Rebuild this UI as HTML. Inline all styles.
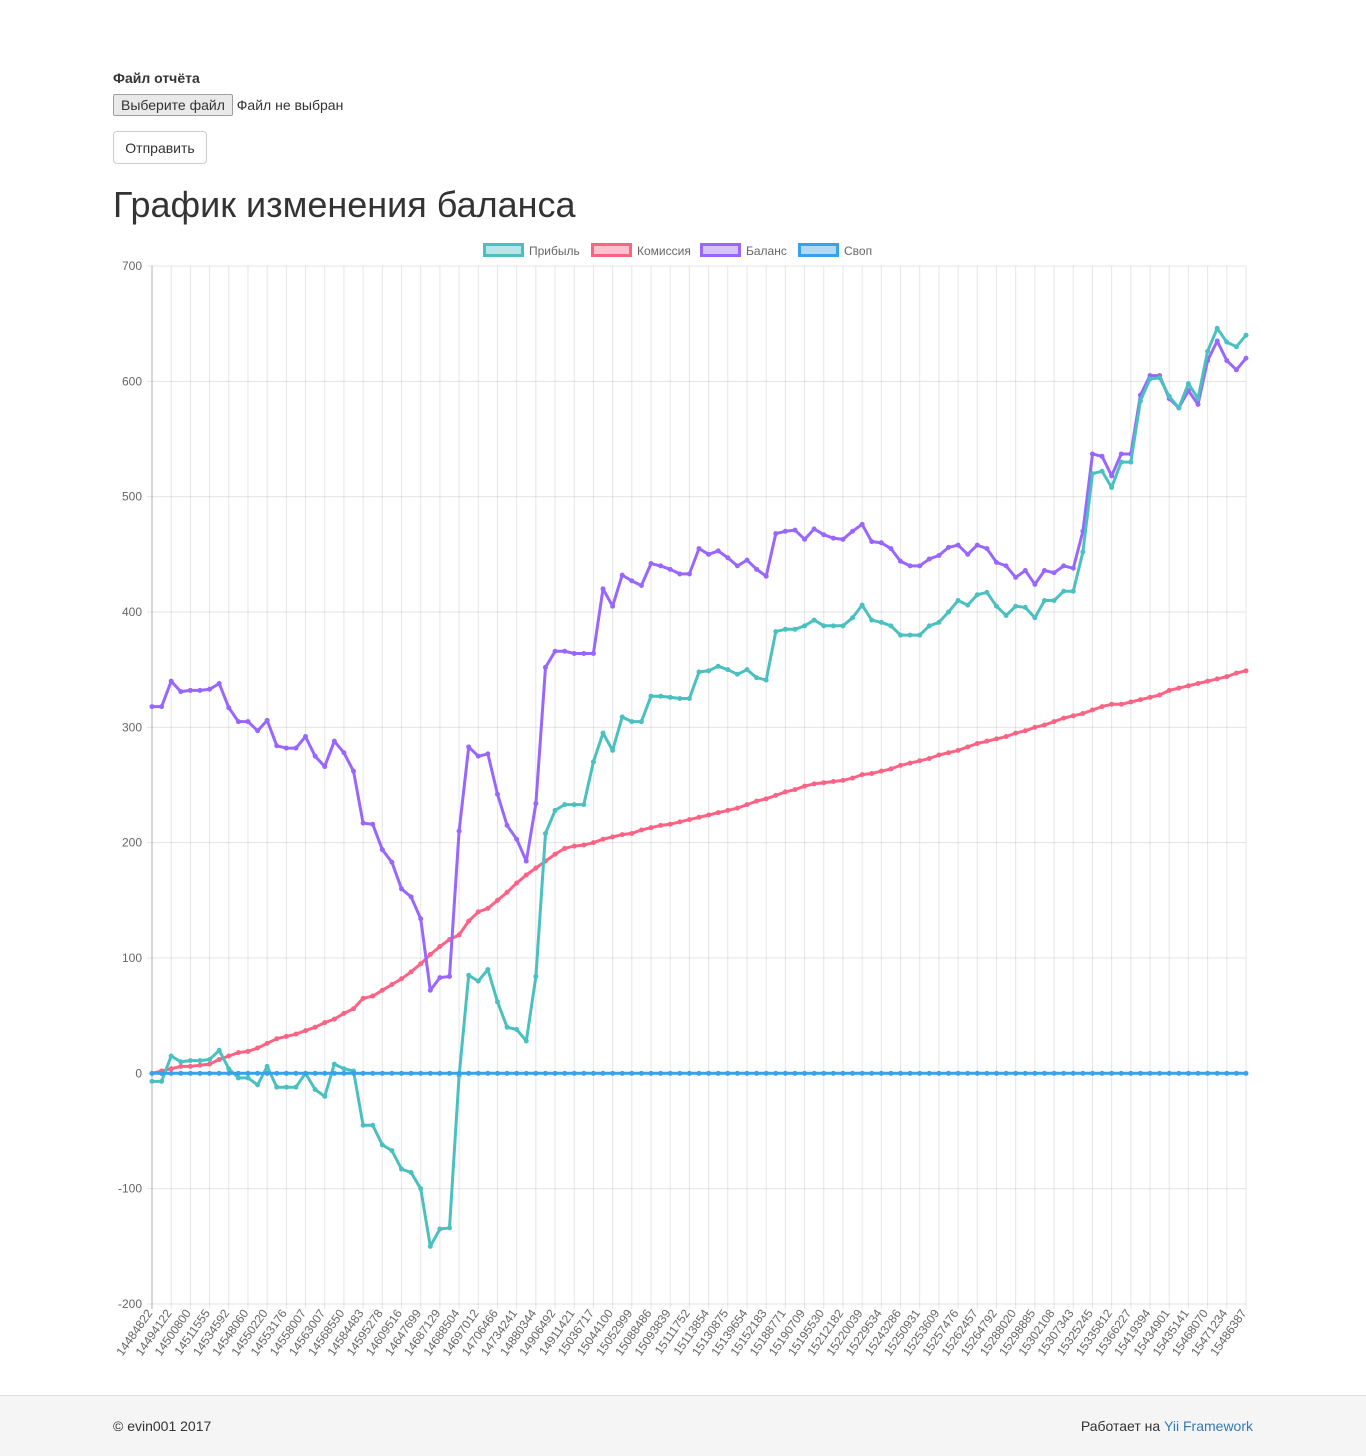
<!DOCTYPE html>
<html><head><meta charset="utf-8"><style>
body{margin:0;width:1366px;height:1455px;position:relative;font-family:"Liberation Sans","DejaVu Sans",sans-serif;color:#333;background:#fff;overflow:hidden}
.lbl{position:absolute;left:113px;top:70px;font-weight:bold;font-size:14px}
.file{position:absolute;left:113px;top:94px;font-size:14px}
.file span.b{display:inline-block;border:1px solid #a0a0a0;background:#e9e9e9;padding:1px 7px;border-radius:2px;height:18px;line-height:18px}
.send{position:absolute;left:113px;top:131px;width:94px;height:33px;border:1px solid #ccc;border-radius:4px;font-size:14px;line-height:33px;text-align:center;box-sizing:border-box}
h1{position:absolute;left:113px;top:184px;margin:0;font-weight:normal;font-size:36px;line-height:42px;color:#333}
.footer{position:absolute;left:0;top:1395px;width:1366px;height:60px;background:#f5f5f5;border-top:1px solid #ddd;font-size:14px}
.footer .l{position:absolute;left:113px;top:22px}
.footer .r{position:absolute;right:113px;top:22px}
.footer a{color:#337ab7;text-decoration:none}
svg{position:absolute;left:0;top:0}
</style></head><body>
<div class="lbl">Файл отчёта</div>
<div class="file"><span class="b">Выберите файл</span> Файл не выбран</div>
<div class="send">Отправить</div>
<h1>График изменения баланса</h1>
<svg id="chart" width="1366" height="1395"></svg>
<div class="footer"><span class="l">© evin001 2017</span><span class="r">Работает на <a>Yii Framework</a></span></div>
<script>
const tickLabels=["14484822","14494122","14500800","14511555","14534592","14548060","14550220","14553176","14558007","14563007","14568550","14584483","14595278","14609516","14647699","14687129","14688504","14697012","14706466","14734241","14880344","14906492","14911421","15036717","15044100","15052999","15088486","15093839","15111752","15113854","15130875","15139654","15152183","15188771","15190709","15195530","15212182","15220039","15229534","15243286","15250931","15253609","15257476","15262457","15264792","15288020","15298885","15302108","15307343","15325245","15335812","15366227","15419394","15434901","15435141","15468070","15471234","15486387"];
const yTicks=[700,600,500,400,300,200,100,0,-100,-200];
const seriesNames=["Прибыль","Комиссия","Баланс","Своп"];
const profit=[-7,-7,15,10,11,11,12,20,4,-4,-4,-10,6,-12,-12,-12,0,-14,-20,8,4,2,-45,-45,-62,-67,-83,-86,-100,-150,-135,-134,-2,85,80,90,62,40,38,28,84,208,228,233,233,233,270,295,280,309,305,305,327,327,326,325,325,348,349,353,350,346,350,343,341,383,385,385,388,393,388,388,388,395,406,393,391,388,380,380,380,388,391,400,410,406,415,417,405,397,405,404,395,410,410,418,418,452,520,522,508,530,530,583,602,603,587,577,598,585,626,646,634,630,640];
const commission=[0,2,4,6,6,7,8,12,15,18,19,22,26,30,32,34,37,40,44,47,52,56,65,67,72,77,82,88,95,103,110,116,120,132,140,143,150,157,165,172,178,184,190,195,197,198,200,203,205,207,208,211,213,215,216,218,220,222,224,226,228,230,233,236,238,241,244,246,249,251,252,253,254,256,259,260,262,264,267,269,271,273,276,278,280,283,286,288,290,292,295,297,300,302,305,308,310,312,315,318,320,320,322,324,326,328,332,334,336,338,340,342,344,347,349];
const balance=[318,318,340,331,332,332,333,338,317,305,305,297,306,284,282,282,292,275,266,288,278,262,217,216,194,183,160,153,134,72,83,84,210,283,275,277,242,215,203,184,234,352,366,366,364,364,364,420,405,432,427,423,442,440,437,433,433,455,450,453,447,440,445,437,431,468,470,471,463,472,467,464,463,470,476,461,460,455,444,440,440,446,449,456,458,450,458,455,443,440,430,436,424,436,434,440,438,470,537,535,518,537,537,588,605,605,585,577,592,580,618,635,618,610,620];
const swap=profit.map(()=>0);
</script>
<script>
const svg=document.getElementById('chart');
const NS='http://www.w3.org/2000/svg';
const X0=152,X1=1246,Y700=266,Y_200=1304;
function yScale(v){return Y700+(700-v)*(Y_200-Y700)/900;}
function xScale(i,n){return X0+i*(X1-X0)/(n-1);}
function mk(tag,attrs){const e=document.createElementNS(NS,tag);for(const k in attrs)e.setAttribute(k,attrs[k]);svg.appendChild(e);return e;}
yTicks.forEach(v=>{
 const y=yScale(v);
 const g=mk('line',{x1:X0-5,x2:X1,y1:y,y2:y,stroke:'rgba(0,0,0,0.1)','stroke-width':1});
 
 
 const t=mk('text',{x:X0-10,y:y+4,'text-anchor':'end','font-size':12,fill:'#666','font-family':'Liberation Sans, sans-serif'});
 t.textContent=v;
 
 
});
tickLabels.forEach((lab,i)=>{
 const x=xScale(i,tickLabels.length);
 const g=mk('line',{x1:x,x2:x,y1:Y700,y2:Y_200+5,stroke:i===0?'rgba(0,0,0,0.3)':'rgba(0,0,0,0.1)','stroke-width':1});
 
 
 const t=mk('text',{x:x+1,y:Y_200+9,'text-anchor':'end','font-size':12,fill:'#666','font-family':'Liberation Sans, sans-serif',transform:`rotate(-55 ${x+1} ${Y_200+9})`});
 t.textContent=lab;
 
 
});
const legendX=[483,591,700,798];
const colors=['#4bc0c0','#ff6384','#9966ff','#36a2eb'];
const fills=['rgba(75,192,192,0.4)','rgba(255,99,132,0.4)','rgba(153,102,255,0.4)','rgba(54,162,235,0.4)'];
seriesNames.forEach((nm,i)=>{
 const r=mk('rect',{x:legendX[i]+1.5,y:244.5,width:38,height:11,fill:fills[i],stroke:colors[i],'stroke-width':3});
 
 
 const t=mk('text',{x:legendX[i]+46,y:255,'font-size':12,fill:'#666','font-family':'Liberation Sans, sans-serif'});
 t.textContent=nm;
 
 
});
const data=[profit,commission,balance,swap];
[1,2,0,3].forEach(si=>{
 const arr=data[si];
 const pts=arr.map((v,i)=>xScale(i,arr.length).toFixed(1)+','+yScale(v).toFixed(1)).join(' ');
 const p=mk('polyline',{points:pts,fill:'none',stroke:colors[si],'stroke-width':3,'stroke-linejoin':'round'});
 
 
 arr.forEach((v,i)=>{
  const c=mk('circle',{cx:xScale(i,arr.length),cy:yScale(v),r:2,fill:colors[si],stroke:colors[si],'stroke-width':1});
  
  
 });
});
</script>
</body></html>
